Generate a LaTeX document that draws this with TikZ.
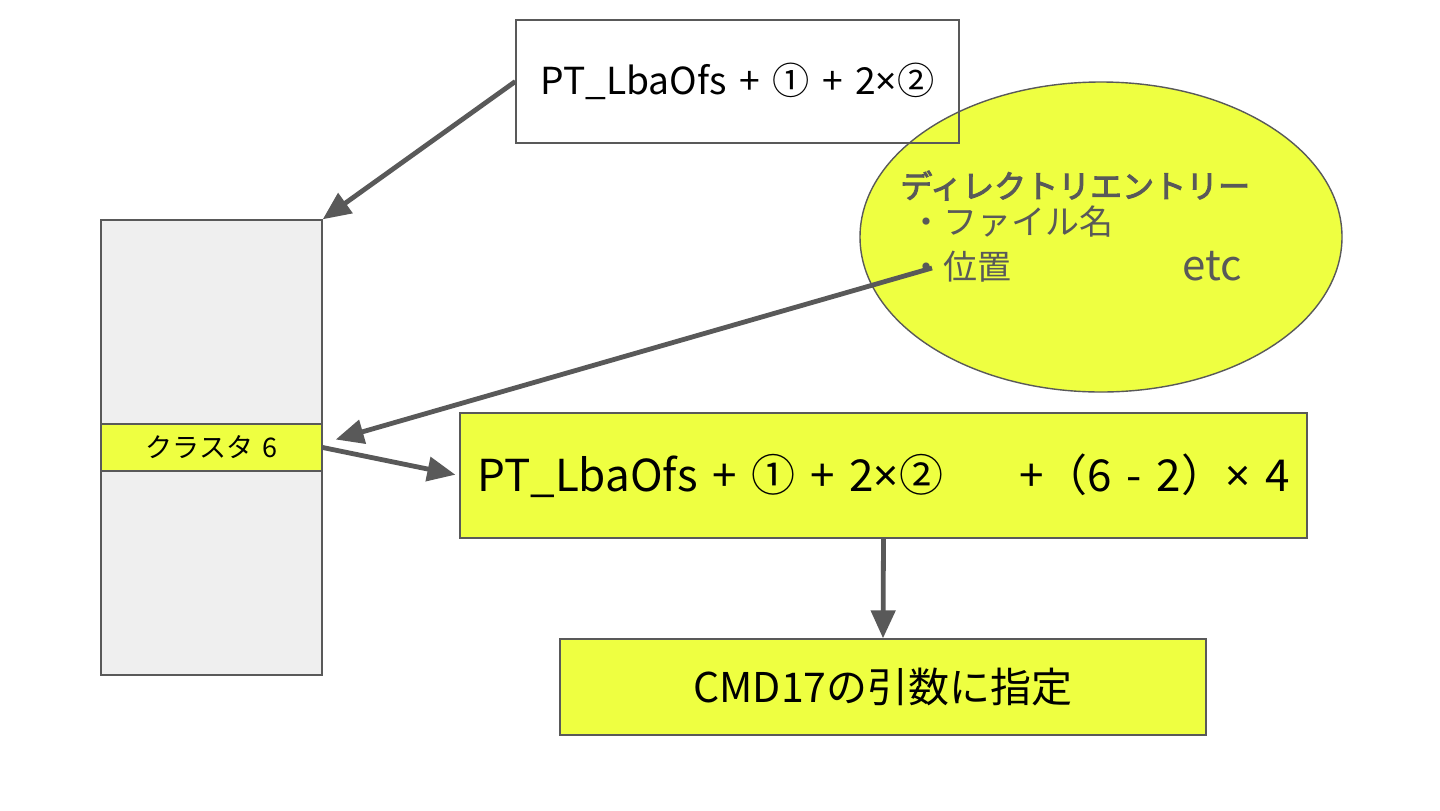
\documentclass[tikz,border=0pt]{standalone}
\usepackage{fontspec}
\setmainfont[WordSpace=1.5]{Noto Sans CJK JP}
\newfontfamily\titlefont[FakeBold=3]{Noto Sans CJK JP}
\newfontfamily\latinfont{Noto Sans}
\usepackage{xcolor}
\usepackage{tikz}
\usetikzlibrary{arrows.meta,positioning,shapes.geometric,calc}
\definecolor{hlyellow}{HTML}{EEFF41}
\definecolor{linegray}{HTML}{595959}
\definecolor{sectgray}{HTML}{EFEFEF}
\newcommand{\tms}{{\latinfont ×}}

\begin{document}
\begin{tikzpicture}[x=0.5pt,y=-0.5pt,>={Triangle[length=14pt,width=12pt]},every node/.style={align=center,inner sep=0pt},
  box/.style={draw=linegray,line width=0.7pt},
  hl/.style={box,fill=hlyellow},
  entry/.style={anchor=base west,text=linegray,font=\fontsize{17}{20}\selectfont},
  arr/.style={->,draw=linegray,line width=2.4pt}]
\useasboundingbox[fill=white] (0,0) rectangle (1440,810);
\node[box,fill=sectgray,minimum width=110.5pt,minimum height=227.5pt] (sector) at (211.5,447.5) {};
\node[hl,minimum width=110.5pt,minimum height=23.5pt,font=\fontsize{13.5}{16}\selectfont] (cluster) at (211.5,447.5) {クラスタ 6};
\node[box,ellipse,fill=hlyellow,minimum width=241pt,minimum height=155pt] (dirent) at (1101,237) {};
\node[entry,font=\fontsize{16}{19}\titlefont] (title) at (900,198) {ディレクトリエントリー};
\node[entry] (fname) at (909,234) {・ファイル名};
\node[entry] (pos) at (909,279) {・位置};
\node[entry,font=\fontsize{21}{24}\selectfont] (etc) at (1182,280) {etc};
\coordinate (posdot) at (932,268);
\node[box,minimum width=221.5pt,minimum height=61.5pt,font=\fontsize{18.6}{22}\selectfont] (lba) at (737.5,81.5) {PT\_LbaOfs + ① + 2\tms②};
\node[hl,minimum width=423.5pt,minimum height=62.5pt,font=\fontsize{22}{26}\selectfont] (addr) at (883.5,475.5) {PT\_LbaOfs + ① + 2\tms②\hspace{38pt}+（6 - 2）\tms\ 4};
\node[hl,minimum width=323pt,minimum height=48pt,font=\fontsize{20.5}{24}\selectfont] (cmd) at (883,687) {CMD17の引数に指定};
\draw[arr] (lba.west) -- (sector.north east);
\draw[arr] (posdot) -- ([xshift=6.5pt,yshift=4pt]cluster.east);
\draw[arr,shorten >=2pt] (cluster.east) -- (addr.west);
\draw[arr] (addr.south) -- (cmd.north);
\end{tikzpicture}
\end{document}
